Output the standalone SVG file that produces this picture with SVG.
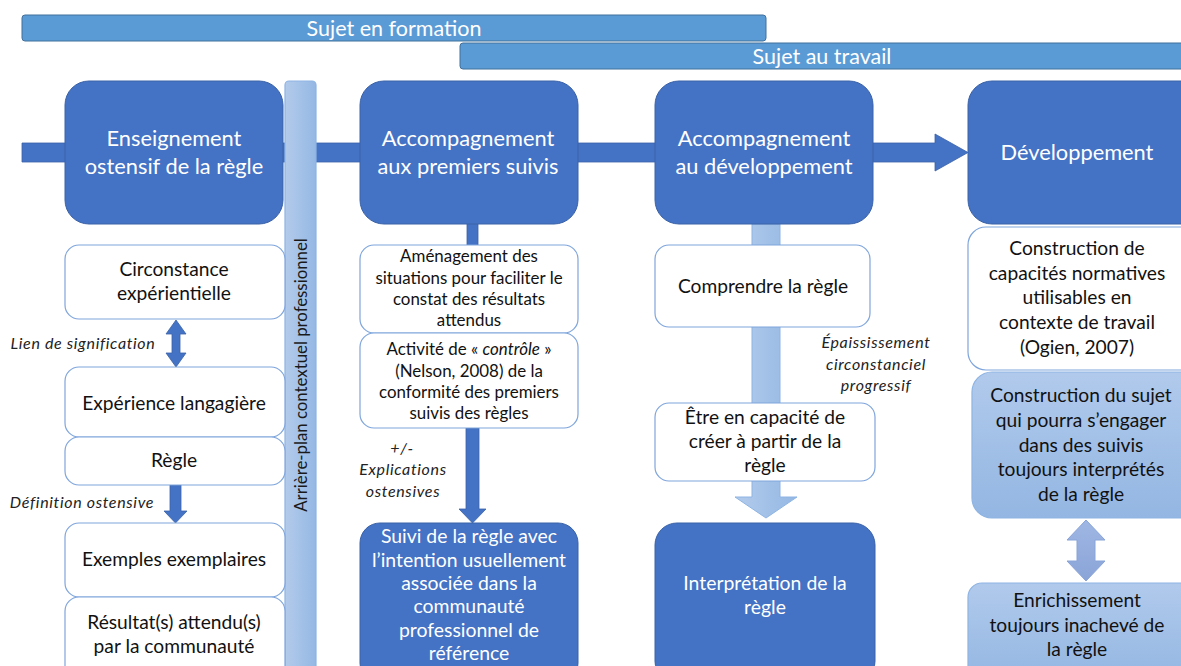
<svg xmlns="http://www.w3.org/2000/svg" width="1181" height="666" viewBox="0 0 1181 666">
<defs>
<linearGradient id="lb" x1="0" y1="0" x2="1" y2="0">
<stop offset="0" stop-color="#b3cbeb"/>
<stop offset="1" stop-color="#94b8e4"/>
</linearGradient>
<linearGradient id="lbv" x1="0" y1="0" x2="0" y2="1">
<stop offset="0" stop-color="#b1caec"/>
<stop offset="1" stop-color="#93b6e2"/>
</linearGradient>
<linearGradient id="lav" x1="0" y1="0" x2="0" y2="1">
<stop offset="0" stop-color="#9fb7e3"/>
<stop offset="1" stop-color="#8aa4d8"/>
</linearGradient>
<style>
text{font-family:Lato,"Open Sans","Liberation Sans",sans-serif;text-anchor:middle;}
.banner{fill:#5b9bd5;stroke:#41719c;stroke-width:1;}
.bt{fill:#fff;font-size:21.5px;}
.dark{fill:#4472c4;stroke:#3a62a8;stroke-width:1;}
.dt{fill:#fff;font-size:21.8px;}
.dt2{fill:#fff;font-size:19.4px;}
.white{fill:#fff;stroke:#7fa5dc;stroke-width:1.2;}
.wt{fill:#111;font-size:19.2px;}
.wt2{fill:#111;font-size:16.9px;}
.light{fill:url(#lbv);stroke:#8eb4e3;stroke-width:1.2;}
.it{fill:#222;font-size:16px;font-style:italic;letter-spacing:0.65px;}
.conn{fill:#4472c4;stroke:#3a62a8;stroke-width:0.8;}
</style>
</defs>

<g id="banners">
<rect class="banner" x="22" y="15" width="744" height="26" rx="3"/>
<text class="bt" x="394" y="35.5">Sujet en formation</text>
<rect class="banner" x="460" y="43" width="730" height="26" rx="3"/>
<text class="bt" x="822" y="63.5">Sujet au travail</text>
</g>

<g id="connectors">
<path class="conn" d="M22,143 H935 V134 L968,152.5 L935,171 V162 H22 Z"/>
<rect class="conn" x="467" y="222" width="11" height="24"/>
<path class="conn" d="M166,334 L176,320 L186,334 L180,334 L180,353 L186,353 L176,367 L166,353 L172,353 L172,334 Z"/>
<path class="conn" d="M170,485 H181 V511 H187 L175.5,523 L164,511 H170 Z"/>
<path class="conn" d="M466,428 H479 V509 H486 L472.5,523 L459,509 H466 Z"/>
<path fill="url(#lb)" stroke="#8eb4e3" stroke-width="1" d="M752,224 H780 V497 H797 L766,518 L735,497 H752 Z"/>
<path fill="url(#lav)" stroke="#8aa4d8" stroke-width="1" d="M1067,540 L1086,520 L1105,540 L1095,540 L1095,561 L1105,561 L1086,581 L1067,561 L1077,561 L1077,540 Z"/>
</g>

<g id="band">
<rect x="285" y="81" width="31" height="600" rx="4" fill="url(#lb)" stroke="#8eb4e3" stroke-width="1.2"/>
<text transform="translate(306.5,375) rotate(-90)" style="fill:#1a1a1a;font-size:16.8px;">Arrière-plan contextuel professionnel</text>
</g>

<g id="n-enseignement">
<rect class="dark" x="65" y="81" width="218" height="143" rx="24"/>
<text class="dt" x="174" y="146">Enseignement</text>
<text class="dt" x="174" y="174">ostensif de la règle</text>
</g>
<g id="n-accompagnement1">
<rect class="dark" x="360" y="81" width="218" height="143" rx="24"/>
<text class="dt" x="468" y="146">Accompagnement</text>
<text class="dt" x="468" y="174">aux premiers suivis</text>
</g>
<g id="n-accompagnement2">
<rect class="dark" x="655" y="81" width="218" height="143" rx="24"/>
<text class="dt" x="764" y="146">Accompagnement</text>
<text class="dt" x="764" y="174">au développement</text>
</g>
<g id="n-developpement">
<rect class="dark" x="968" y="81" width="240" height="143" rx="24"/>
<text class="dt" x="1077" y="160">Développement</text>
</g>

<g id="n-circonstance">
<rect class="white" x="65" y="245" width="220" height="74" rx="14"/>
<text class="wt" x="174" y="276">Circonstance</text>
<text class="wt" x="174" y="300">expérientielle</text>
</g>
<text class="it" x="83" y="349">Lien de signification</text>
<g id="n-experience">
<rect class="white" x="65" y="367" width="220" height="70" rx="14"/>
<text class="wt" x="174" y="410">Expérience langagière</text>
</g>
<g id="n-regle">
<rect class="white" x="65" y="437" width="220" height="48" rx="14"/>
<text class="wt" x="174" y="467">Règle</text>
</g>
<text class="it" x="82" y="508">Définition ostensive</text>
<g id="n-exemples">
<rect class="white" x="65" y="523" width="220" height="74" rx="14"/>
<text class="wt" x="174" y="566">Exemples exemplaires</text>
</g>
<g id="n-resultats">
<rect class="white" x="65" y="597" width="220" height="90" rx="14"/>
<text class="wt" x="174" y="629">Résultat(s) attendu(s)</text>
<text class="wt" x="174" y="653">par la communauté</text>
</g>

<g id="n-amenagement">
<rect class="white" x="360" y="245" width="218" height="88" rx="14"/>
<text class="wt2" x="469" y="262">Aménagement des</text>
<text class="wt2" x="469" y="284">situations pour faciliter le</text>
<text class="wt2" x="469" y="305">constat des résultats</text>
<text class="wt2" x="469" y="326">attendus</text>
</g>
<g id="n-controle">
<rect class="white" x="360" y="333" width="218" height="95" rx="14"/>
<text class="wt2" x="469" y="355">Activité de « <tspan font-style="italic">contrôle</tspan> »</text>
<text class="wt2" x="469" y="377">(Nelson, 2008) de la</text>
<text class="wt2" x="469" y="398">conformité des premiers</text>
<text class="wt2" x="469" y="419">suivis des règles</text>
</g>
<g id="lbl-explications">
<text class="it" x="402" y="454">+/-</text>
<text class="it" x="403" y="475">Explications</text>
<text class="it" x="403" y="497">ostensives</text>
</g>
<g id="n-suivi">
<rect class="dark" x="360" y="523" width="218" height="160" rx="20"/>
<text class="dt2" x="469" y="543">Suivi de la règle avec</text>
<text class="dt2" x="469" y="567">l’intention usuellement</text>
<text class="dt2" x="469" y="590">associée dans la</text>
<text class="dt2" x="469" y="613">communauté</text>
<text class="dt2" x="469" y="637">professionnel de</text>
<text class="dt2" x="469" y="660">référence</text>
</g>

<g id="n-comprendre">
<rect class="white" x="655" y="245" width="215" height="82" rx="14"/>
<text class="wt" x="763" y="293">Comprendre la règle</text>
</g>
<g id="lbl-epaississement">
<text class="it" x="876" y="348">Épaississement</text>
<text class="it" x="876" y="370">circonstanciel</text>
<text class="it" x="876" y="391">progressif</text>
</g>
<g id="n-creer">
<rect class="white" x="655" y="403" width="220" height="78" rx="14"/>
<text class="wt" x="765" y="424">Être en capacité de</text>
<text class="wt" x="765" y="448">créer à partir de la</text>
<text class="wt" x="765" y="472">règle</text>
</g>
<g id="n-interpretation">
<rect class="dark" x="655" y="523" width="220" height="160" rx="22"/>
<text class="dt2" x="765" y="590">Interprétation de la</text>
<text class="dt2" x="765" y="614">règle</text>
</g>

<g id="n-capacites">
<rect class="white" x="968" y="227" width="240" height="143" rx="18"/>
<text class="wt" x="1077" y="255">Construction de</text>
<text class="wt" x="1077" y="280">capacités normatives</text>
<text class="wt" x="1077" y="304">utilisables en</text>
<text class="wt" x="1077" y="329">contexte de travail</text>
<text class="wt" x="1077" y="354">(Ogien, 2007)</text>
</g>
<g id="n-sujet">
<rect class="light" x="972" y="372" width="236" height="146" rx="20"/>
<text class="wt" x="1081" y="402">Construction du sujet</text>
<text class="wt" x="1081" y="427">qui pourra s’engager</text>
<text class="wt" x="1081" y="452">dans des suivis</text>
<text class="wt" x="1081" y="476">toujours interprétés</text>
<text class="wt" x="1081" y="501">de la règle</text>
</g>
<g id="n-enrichissement">
<rect class="light" x="968" y="583" width="240" height="100" rx="14"/>
<text class="wt" x="1077" y="607">Enrichissement</text>
<text class="wt" x="1077" y="632">toujours inachevé de</text>
<text class="wt" x="1077" y="656">la règle</text>
</g>
</svg>
